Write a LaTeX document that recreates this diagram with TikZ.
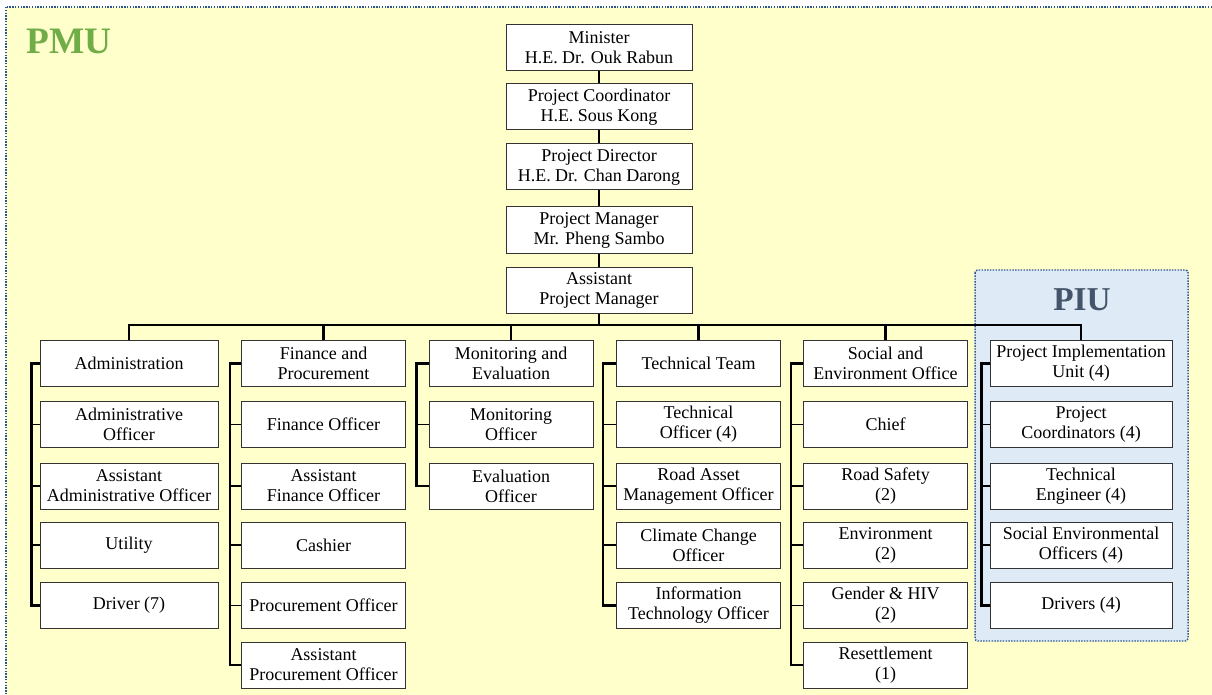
\documentclass[tikz,border=0pt]{standalone}
\usepackage{fontspec}
\setmainfont{Liberation Serif}
\usepackage{xcolor}
\usepackage{tikz}

\definecolor{pmugreen}{HTML}{70AD47}
\definecolor{piugray}{HTML}{44546A}
\definecolor{frameblue}{HTML}{2F5597}
\definecolor{pmufill}{HTML}{FFFFCC}
\definecolor{piufill}{HTML}{DEEBF7}

\begin{document}
\begin{tikzpicture}[x=0.75pt,y=-0.75pt,
		box/.style={draw=black!80,line width=0.75pt,fill=white,align=center,inner sep=1pt,minimum height=34.5pt,font=\fontsize{13.5}{15}\selectfont},
		topbox/.style={box,minimum width=139.5pt},
		widebox/.style={box,minimum width=133.5pt},
		unitbox/.style={box,minimum width=123pt},
		piubox/.style={box,minimum width=136.5pt},
		thin line/.style={line width=0.9pt},
		bus/.style={line width=2pt},
		spine/.style={line width=2pt},
		tick/.style={line width=0.9pt},
		border/.style={draw=frameblue,densely dotted,line width=1.1pt}]
			\useasboundingbox (0,0) rectangle (1212,695);
			\clip (0,0) rectangle (1212,695);
			% PMU frame
			\fill[pmufill] (6,7) rectangle (1220,705);
			\draw[border] (6,7) rectangle (1220,705);
			\node[text=pmugreen,font=\fontsize{28}{30}\bfseries\selectfont] (pmu) at (69,41) {PMU};
			% PIU frame
			\fill[piufill,rounded corners=2pt] (975,270) rectangle (1188,641);
			\draw[border,rounded corners=2pt] (975,270) rectangle (1188,641);
			\node[text=piugray,font=\fontsize{25}{27}\bfseries\selectfont] (piu) at (1082,300) {PIU};
			% top of the chart
			\node[topbox] (m1) at (599,48) {Minister\\H.E. Dr. Ouk Rabun};
			\node[topbox] (m2) at (599,107) {Project Coordinator\\H.E. Sous Kong};
			\node[topbox] (m3) at (599,167) {Project Director\\H.E. Dr. Chan Darong};
			\node[topbox] (m4) at (599,230) {Project Manager\\Mr. Pheng Sambo};
			\node[topbox] (m5) at (599,290) {Assistant\\Project Manager};
			% administration
			\node[widebox] (a1) at (129,363.5) {Administration};
			\node[widebox] (a2) at (129,424.5) {Administrative\\Officer};
			\node[widebox] (a3) at (129,486) {Assistant\\Administrative Officer};
			\node[widebox] (a4) at (129,545) {Utility};
			\node[widebox] (a5) at (129,605.5) {Driver (7)};
			% finance
			\node[unitbox] (f1) at (323.5,363.5) {Finance and\\Procurement};
			\node[unitbox] (f2) at (323.5,424.5) {Finance Officer};
			\node[unitbox] (f3) at (323.5,486) {Assistant\\Finance Officer};
			\node[unitbox] (f4) at (323.5,545) {Cashier};
			\node[unitbox] (f5) at (323.5,605.5) {Procurement Officer};
			\node[unitbox] (f6) at (323.5,665) {Assistant\\Procurement Officer};
			% monitoring
			\node[unitbox] (e1) at (511,363.5) {Monitoring and\\Evaluation};
			\node[unitbox] (e2) at (511,424.5) {Monitoring\\Officer};
			\node[unitbox] (e3) at (511,486) {Evaluation\\Officer};
			% technical
			\node[unitbox] (t1) at (698.5,363.5) {Technical Team};
			\node[unitbox] (t2) at (698.5,424.5) {Technical\\Officer (4)};
			\node[unitbox] (t3) at (698.5,486) {Road Asset\\Management Officer};
			\node[unitbox] (t4) at (698.5,545) {Climate Change\\Officer};
			\node[unitbox] (t5) at (698.5,605.5) {Information\\Technology Officer};
			% social
			\node[unitbox] (s1) at (885.5,363.5) {Social and\\Environment Office};
			\node[unitbox] (s2) at (885.5,424.5) {Chief};
			\node[unitbox] (s3) at (885.5,486) {Road Safety\\(2)};
			\node[unitbox] (s4) at (885.5,545) {Environment\\(2)};
			\node[unitbox] (s5) at (885.5,605.5) {Gender \& HIV\\(2)};
			\node[unitbox] (s6) at (885.5,665) {Resettlement\\(1)};
			% PIU
			\node[piubox] (p1) at (1081,363.5) {Project Implementation\\Unit (4)};
			\node[piubox] (p2) at (1081,424.5) {Project\\Coordinators (4)};
			\node[piubox] (p3) at (1081,486) {Technical\\Engineer (4)};
			\node[piubox] (p4) at (1081,545) {Social Environmental\\Officers (4)};
			\node[piubox] (p5) at (1081,605.5) {Drivers (4)};
			% lines
			\draw[thin line] (m1) -- (m2);
			\draw[thin line] (m2) -- (m3);
			\draw[thin line] (m3) -- (m4);
			\draw[thin line] (m4) -- (m5);
			\coordinate (busmid) at (599,325);
			\draw[thin line] (m5.south) -- (busmid);
			\draw[bus] (a1.north) |- (busmid) -| (p1.north);
			\draw[bus] (f1.north) -- (f1.north |- busmid);
			\draw[bus] (e1.north) -- (e1.north |- busmid);
			\draw[bus] (t1.north) -- (t1.north |- busmid);
			\draw[bus] (s1.north) -- (s1.north |- busmid);
			\draw[spine] (a1.west) -- ++(-8,0) |- (a5.west);
			\draw[tick] (a2.west) -- ++(-8,0);
			\draw[tick] (a3.west) -- ++(-8,0);
			\draw[tick] (a4.west) -- ++(-8,0);
			\draw[spine] (f1.west) -- ++(-11,0) |- (f6.west);
			\draw[tick] (f2.west) -- ++(-11,0);
			\draw[tick] (f3.west) -- ++(-11,0);
			\draw[tick] (f4.west) -- ++(-11,0);
			\draw[tick] (f5.west) -- ++(-11,0);
			\draw[spine] (e1.west) -- ++(-12,0) |- (e3.west);
			\draw[tick] (e2.west) -- ++(-12,0);
			\draw[spine] (t1.west) -- ++(-13,0) |- (t5.west);
			\draw[tick] (t2.west) -- ++(-13,0);
			\draw[tick] (t3.west) -- ++(-13,0);
			\draw[tick] (t4.west) -- ++(-13,0);
			\draw[spine] (s1.west) -- ++(-12,0) |- (s6.west);
			\draw[tick] (s2.west) -- ++(-12,0);
			\draw[tick] (s3.west) -- ++(-12,0);
			\draw[tick] (s4.west) -- ++(-12,0);
			\draw[tick] (s5.west) -- ++(-12,0);
			\draw[spine] (p1.west) -- ++(-8,0) |- (p5.west);
			\draw[tick] (p2.west) -- ++(-8,0);
			\draw[tick] (p3.west) -- ++(-8,0);
			\draw[tick] (p4.west) -- ++(-8,0);
		\end{tikzpicture}
\end{document}
